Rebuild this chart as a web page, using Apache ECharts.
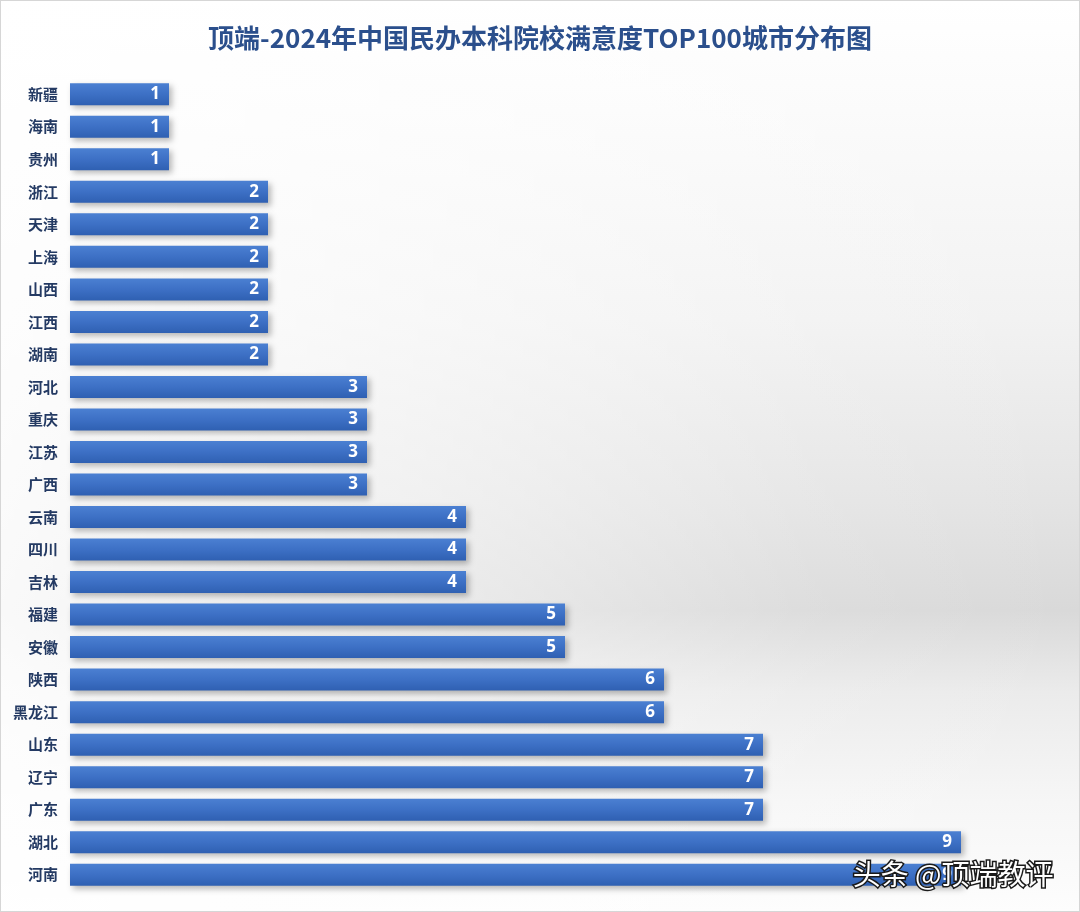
<!DOCTYPE html>
<html><head><meta charset="utf-8">
<script src="https://cdn.jsdelivr.net/npm/echarts@6/dist/echarts.min.js"></script>
<style>
html,body{margin:0;padding:0;}
#c{width:1080px;height:912px;box-sizing:border-box;border:1px solid #d6d6d6;
background:
 linear-gradient(to right, rgba(255,255,255,0.85) 0%, rgba(255,255,255,0.45) 40%, rgba(255,255,255,0.1) 75%, rgba(255,255,255,0) 100%),
 linear-gradient(to bottom, #ffffff 0%, #fbfbfb 12%, #f2f2f2 35%, #e4e4e4 55%, #d9d9d9 67%, #ebebeb 76%, #f6f6f6 88%, #fdfdfd 100%);}
</style>
</head><body>
<div id="c"></div>
<script>
const categories = ['新疆','海南','贵州','浙江','天津','上海','山西','江西','湖南','河北','重庆','江苏','广西','云南','四川','吉林','福建','安徽','陕西','黑龙江','山东','辽宁','广东','湖北','河南'];
const values = [1,1,1,2,2,2,2,2,2,3,3,3,3,4,4,4,5,5,6,6,7,7,7,9,9];
const titleText = '顶端-2024年中国民办本科院校满意度TOP100城市分布图';
const watermark = '头条 @顶端教评';

const chart = echarts.init(document.getElementById('c'));
chart.setOption({
  backgroundColor: 'transparent',
  title: {
    text: titleText, left: 'center', top: 19,
    textStyle: {color: '#2b4f8c', fontSize: 26, fontWeight: 'bold', fontFamily: 'Noto Sans CJK SC'}
  },
  grid: {left: 69, right: 19, top: 77, bottom: 20, containLabel: false},
  xAxis: {type: 'value', min: 0, max: 10, show: false},
  yAxis: {
    type: 'category', data: categories, inverse: true,
    axisLine: {show: false}, axisTick: {show: false}, splitLine: {show: false},
    axisLabel: {color: '#243a63', fontSize: 15, fontWeight: 'bold', margin: 12, fontFamily: 'Noto Sans CJK SC'}
  },
  series: [{
    type: 'bar', data: values, barWidth: 22,
    itemStyle: {
      color: new echarts.graphic.LinearGradient(0,0,0,1,[
        {offset:0,color:'#4b80d2'},{offset:0.5,color:'#3d70c5'},{offset:1,color:'#2f60b2'}]),
      shadowColor: 'rgba(0,0,0,0.28)', shadowBlur: 6, shadowOffsetX: 3, shadowOffsetY: 3
    },
    label: {show: true, position: 'insideRight', distance: 9, color: '#ffffff', fontSize: 17, fontWeight: 'bold', fontFamily: 'Noto Sans'}
  }],
  graphic: [{
    type: 'text', right: 24, top: 858, z: 100,
    style: {text: watermark, fill: '#ffffff', stroke: '#1a1a1a', lineWidth: 3, fontSize: 28, fontFamily: 'Noto Sans CJK SC', fontWeight: 'normal'}
  }]
});
</script>
</body></html>
